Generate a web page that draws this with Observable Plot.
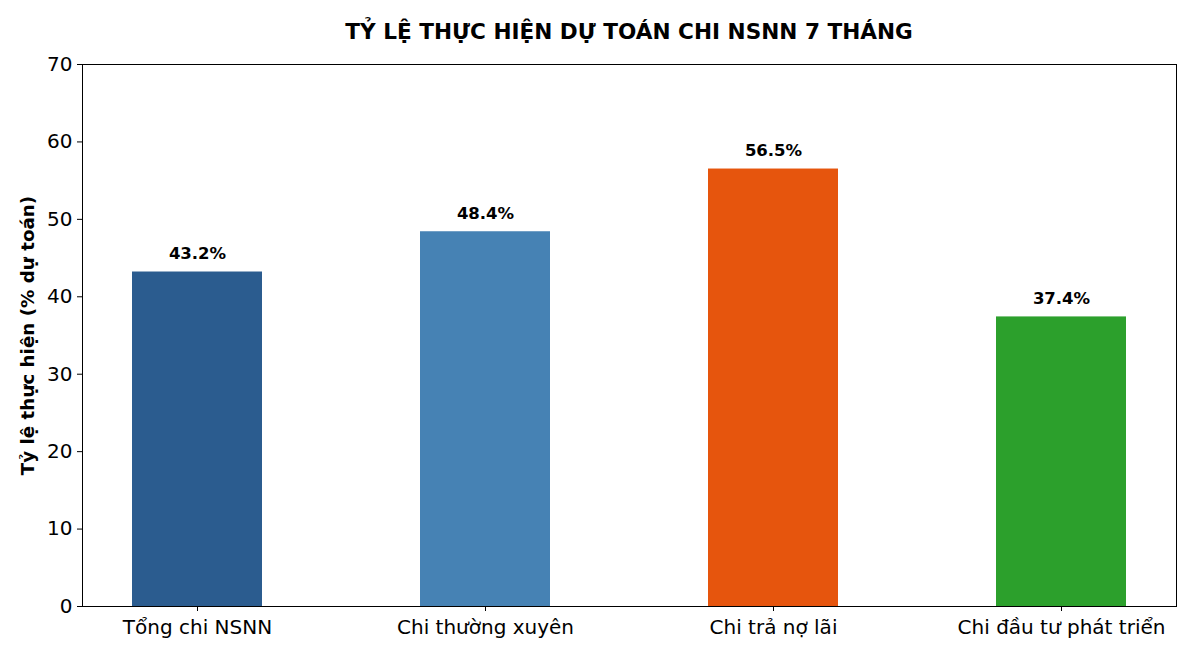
<!DOCTYPE html>
<html>
<head>
<meta charset="utf-8">
<script src="https://cdn.jsdelivr.net/npm/d3@7"></script>
<script src="https://cdn.jsdelivr.net/npm/@observablehq/plot@0.6"></script>
<style>
  html, body { margin: 0; padding: 0; background: #fff; }
  body { width: 1200px; height: 660px; font-family: "DejaVu Sans", sans-serif; }
  #title { height: 50px; box-sizing: border-box; padding-top: 19px; text-align: center; font-weight: bold; font-size: 21.6px; color: #000; padding-left: 58px; }
</style>
</head>
<body>
<div id="title">TỶ LỆ THỰC HIỆN DỰ TOÁN CHI NSNN 7 THÁNG</div>
<div id="chart"></div>
<script>
const categories = ["Tổng chi NSNN", "Chi thường xuyên", "Chi trả nợ lãi", "Chi đầu tư phát triển"];
const values = [43.2, 48.4, 56.5, 37.4];
const colors = ["#2b5c8f", "#4682b4", "#e6550d", "#2ca02c"];
const yTicks = [0, 10, 20, 30, 40, 50, 60, 70];

const data = categories.map((c, i) => ({cat: c, value: values[i], color: colors[i]}));

const chart = Plot.plot({
  width: 1200,
  height: 610,
  marginTop: 14,
  marginBottom: 54,
  marginLeft: 82,
  marginRight: 24,
  style: {fontFamily: "DejaVu Sans, sans-serif", fontSize: "20px", color: "#000", background: "#fff"},
  x: {domain: categories, paddingInner: 0.55, paddingOuter: 0.1736, label: null},
  y: {domain: [0, 70], ticks: yTicks, label: null},
  marks: [
    Plot.barY(data, {x: "cat", y: "value", fill: "color"}),
    Plot.text(data, {x: "cat", y: "value", text: d => d.value.toFixed(1) + "%", dy: -18, fontWeight: "bold", fontSize: 16.5, fill: "#000"}),
    Plot.frame({stroke: "#000", strokeWidth: 1}),
    Plot.axisY({ticks: yTicks, tickSize: 5, tickPadding: 5, fontSize: 20, label: null, stroke: "#000"}),
    Plot.axisX({tickSize: 5, tickPadding: 8, fontSize: 20, label: null, stroke: "#000"}),
    Plot.text(["Tỷ lệ thực hiện (% dự toán)"], {frameAnchor: "left", dx: -54, rotate: -90, textAnchor: "middle", fontWeight: "bold", fontSize: 18.3, fill: "#000"})
  ]
});
document.getElementById("chart").appendChild(chart);
</script>
</body>
</html>
